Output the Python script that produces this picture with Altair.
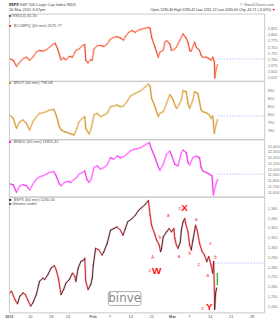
import altair as alt
import pandas as pd

FONT = "Liberation Sans"

# x = trading-day index (0 = 3 Jan 2011)
tick_days = [0, 5, 10, 14, 20, 24, 29, 34, 39, 43, 48, 53, 58]
tick_labels = ["2011", "10", "18", "24", "Feb", "7", "14", "22", "Mar", "7", "14", "21", "28"]
bold_days = [0, 20, 39]

compq_t = [0.24,1.02,1.82,2.60,3.38,4.18,4.96,5.74,6.55,7.33,8.11,8.91,9.69,10.47,11.04,11.65,12.46,13.07,13.64,14.42,15.20,16.00,16.78,17.57,18.13,18.37,18.91,19.55,19.93,20.33,21.11,21.91,22.70,23.48,24.28,25.06,25.84,26.64,27.42,27.83,28.61,29.39,30.19,30.97,31.75,32.55,33.33,33.74,34.11,34.92,35.70,36.10,36.88,37.28,37.66,38.46,38.84,39.65,40.02,40.83,41.61,42.25,42.79,43.19,43.57,44.37,44.75,45.56,45.93,46.34,47.12,47.92,48.30,48.70,49.10,49.22,49.48,49.88]
compq_v = [2701,2695,2670,2688,2701,2708,2695,2708,2729,2736,2733,2738,2749,2760,2766,2742,2697,2705,2697,2711,2708,2736,2742,2756,2760,2695,2684,2697,2695,2742,2756,2756,2752,2763,2783,2790,2793,2787,2779,2793,2811,2818,2811,2820,2824,2828,2831,2828,2790,2749,2708,2729,2736,2770,2777,2763,2736,2742,2749,2777,2804,2790,2770,2736,2733,2770,2749,2736,2715,2708,2708,2701,2695,2708,2688,2622,2655,2678]
compq_ticks = [2625, 2650, 2675, 2700, 2725, 2750, 2775, 2800, 2825]
compq_last = 2701

rut_t = [0.24,1.02,1.82,2.60,3.38,4.18,4.96,5.74,6.55,7.33,8.11,8.91,9.69,10.71,11.28,12.06,12.46,13.24,14.02,14.82,15.60,16.24,16.78,17.57,18.13,18.37,19.15,19.69,20.33,21.11,21.91,22.70,23.48,24.28,25.06,25.84,26.64,27.42,28.20,29.01,30.19,30.97,31.75,32.55,33.33,33.74,34.11,34.92,35.70,36.10,36.88,37.66,38.46,38.84,39.24,40.02,40.43,41.21,41.61,42.39,42.79,43.19,43.97,44.37,45.15,45.93,46.34,47.12,47.92,48.30,48.70,49.10,49.48,49.88]
rut_v = [799.5,795.4,783.2,791.3,793.4,789.3,781.2,791.3,797.4,801.5,802.3,803.5,805.6,806.4,799.5,785.2,781.2,779.1,777.9,776.3,775.1,783.2,791.3,795.4,797.4,783.2,776.3,783.2,799.5,801.5,797.4,799.5,801.5,809.6,810.5,811.7,809.6,810.5,815.7,822.7,825.9,827.9,830.0,834.0,837.3,834.9,819.8,809.6,797.4,801.5,803.5,813.7,824.3,821.8,817.8,807.6,809.6,817.8,829.2,827.9,813.7,807.6,817.8,827.9,825.9,805.6,803.5,802.3,799.5,795.4,798.3,777.1,787.3,794.2]
rut_ticks = [780, 790, 800, 810, 820, 830]
rut_last = 798.3

indu_t = [0.24,1.02,1.82,2.60,3.38,4.18,4.96,5.74,6.55,7.33,8.11,8.91,9.69,10.71,11.28,12.06,12.46,13.24,14.02,14.82,15.60,16.24,16.78,17.57,18.13,18.61,19.15,19.69,20.33,21.11,21.91,22.70,23.48,24.28,25.06,25.84,26.64,27.42,28.20,29.01,29.79,30.57,31.37,32.15,32.93,33.57,34.11,34.92,35.70,36.10,36.88,37.66,38.46,38.84,39.65,40.43,41.21,41.61,42.39,42.79,43.19,43.97,44.75,45.56,45.93,46.34,47.12,47.92,48.53,48.86,49.48,49.88]
indu_v = [11744,11732,11600,11715,11732,11715,11641,11744,11829,11868,11886,11915,11942,11959,11886,11744,11715,11771,11788,11771,11829,11857,11915,11942,11971,11829,11771,11829,12028,12057,12000,12028,12074,12199,12171,12228,12199,12216,12257,12313,12342,12352,12370,12399,12438,12455,12342,12199,12039,11983,12086,12257,12313,12245,12086,12057,12284,12330,12284,12113,12074,12199,12228,12199,12028,11971,11942,11915,11886,11556,11744,11829]
indu_ticks = [11600, 11700, 11800, 11900, 12000, 12100, 12200, 12300, 12400]
indu_last = 11915

spx_t = [0.24,0.64,1.42,2.06,2.60,3.38,3.95,4.56,5.20,5.74,6.55,7.33,8.11,8.51,9.29,10.09,10.87,11.28,11.82,12.46,13.07,13.64,14.42,15.20,15.77,16.00,16.55,17.19,17.97,18.13,18.37,18.91,19.55,19.93,20.17,20.73,21.51,22.29,22.70,23.48,24.28,25.06,25.84,26.64,27.26,27.83,28.37,29.39,30.19,30.97,31.75,32.55,33.33,33.74,34.11,34.92,35.30,35.93,36.24,36.48,36.88,37.66,38.30,38.84,39.41,39.65,40.02,40.43,40.97,41.21,41.61,42.01,42.25,42.79,43.19,43.57,43.97,44.61,44.99,45.56,46.17,46.74,47.28,47.75,48.30,48.70,48.94,49.10,49.17,49.41,49.65]
spx_v = [1253.6,1255.3,1246.9,1242.5,1250.2,1253.6,1251.9,1245.9,1240.1,1243.5,1251.9,1265.4,1268.8,1267.1,1272.1,1278.9,1281.5,1277.2,1268.8,1251.9,1257.0,1263.7,1267.1,1273.8,1270.4,1265.4,1278.9,1285.6,1287.3,1289.0,1265.4,1257.0,1262.0,1268.8,1282.2,1299.1,1297.4,1292.3,1295.7,1304.1,1317.6,1319.3,1320.9,1317.6,1312.5,1319.3,1326.0,1329.4,1332.7,1337.8,1340.8,1343.8,1347.9,1332.7,1322.6,1312.5,1307.5,1302.4,1295.7,1299.1,1310.8,1315.9,1319.3,1315.9,1319.3,1309.2,1302.4,1299.1,1305.8,1317.6,1326.0,1329.4,1324.3,1315.9,1302.4,1297.4,1307.5,1322.6,1317.6,1304.1,1295.7,1292.3,1285.6,1290.6,1282.2,1273.8,1285.6,1257.0,1236.8,1253.6,1258.7]
spx_ticks = [1240, 1250, 1260, 1270, 1280, 1290, 1300, 1310, 1320, 1330, 1340]
spx_last = 1284
spx_final_t = 49.8
spx_final_lo = 1261.5
spx_final_hi = 1274

small_t = [38.06, 36.1, 34.35, 33.7, 40.8, 40.66, 43.2, 44.75, 48.16, 45.4, 49.34, 47.5, 46.3]
small_v = [1332.0, 1309.8, 1289.6, 1275.7, 1339.5, 1290.6, 1293.0, 1328.2, 1303.1, 1282.2, 1289.6, 1270.4, 1236.8]
small_s = ["a", "b", "A", "c", "c", "a", "b", "a", "x", "c", "b", "a", "c"]
big_t = [35.3, 42.0, 47.9]
big_v = [1275.7, 1340.3, 1238.8]
big_s = ["W", "X", "Y"]

XDOM = [0, 61]
W = 258


def segments(t, v, up, down):
    rows = list(zip(t, v))
    a, b = rows[:-1], rows[1:]
    return pd.DataFrame({
        "t": [p[0] for p in a], "t2": [q[0] for q in b],
        "v": [p[1] for p in a], "v2": [q[1] for q in b],
        "c": [up if q[1] >= p[1] else down for p, q in zip(a, b)],
    })


def txt(s, x, y, color="#444", size=4, weight="normal", align="left"):
    return alt.Chart(pd.DataFrame({"s": [s]})).mark_text(
        align=align, baseline="middle", fontSize=size, color=color, font=FONT, fontWeight=weight
    ).encode(x=alt.value(x), y=alt.value(y), text="s:N")


label_expr = " : ".join(f"datum.value == {d} ? '{l}'" for d, l in zip(tick_days, tick_labels)) + " : ''"
bold_expr = "indexof(" + str(bold_days) + ", datum.value) >= 0 ? 'bold' : 'normal'"


def panel(t, v, dom, ticks, halo, up, down, last_t, last_v, height, extras=()):
    xs = alt.Scale(domain=XDOM, nice=False, zero=False)
    ys = alt.Scale(domain=dom, nice=False, zero=False)
    yax = alt.Axis(orient="right", values=ticks, grid=False, ticks=False, domain=False,
                   labelFontSize=4, labelColor="#777", labelFont=FONT, labelPadding=3,
                   labelOverlap=False, labelFlush=False, title=None)
    X = alt.X("t:Q", scale=xs, axis=None, title=None)
    Y = alt.Y("v:Q", scale=ys, axis=yax)
    df = pd.DataFrame({"t": list(t), "v": list(v)}).iloc[:min(len(t), len(v))]
    halo_l = alt.Chart(df).mark_line(color=halo, strokeWidth=2.2, strokeJoin="round").encode(x=X, y=Y)
    seg = alt.Chart(segments(t, v, up, down)).mark_rule(strokeWidth=0.75, strokeCap="round").encode(
        x=X, x2="t2:Q", y=Y, y2="v2:Q", color=alt.Color("c:N", scale=None))
    dash = alt.Chart(pd.DataFrame({"t": [last_t], "t2": [XDOM[1]], "v": [last_v]})).mark_rule(
        color="#a8b0ff", strokeDash=[1.5, 1.5], strokeWidth=0.8).encode(x=X, x2="t2:Q", y=Y)
    return alt.layer(halo_l, seg, dash, *extras).properties(width=W, height=height)


header = alt.layer(
    txt("$SPX", 0, 2.5, color="#222", weight="bold"),
    txt("S&P 500 Large Cap Index  INDX", 11, 2.5, color="#444"),
    txt("16-Mar-2011 3:47pm", 0, 7.5, color="#444"),
    txt("© StockCharts.com", 268, 2.5, color="#666", align="right"),
    txt("Open 1290.40  High 1290.41  Low 1261.12  Last 1265.00  Chg -40.71 (-3.00%)", 265, 7, color="#333", size=3.6, align="right"),
    txt("▼", 266, 7, color="#dd0000", size=3.6),
).properties(width=W, height=11, view=alt.ViewBackground(stroke="transparent"))

p1 = panel(compq_t, compq_v, [2609.8, 2888.6], compq_ticks, "#fcd0c4", "#f5603a", "#dc2000",
           49.88, compq_last, 68,
           extras=[txt("■ RSI(14) 45.30", 0, 2.5, color="#555"),
                   txt("■", 0, 13, color="#e83010"),
                   txt("$COMPQ (60 min) 2675.77", 5, 13, color="#555")])

p2 = panel(rut_t, rut_v, [769.8, 841.3], rut_ticks, "#f4e0bc", "#dca040", "#c47c00",
           49.88, rut_last, 59,
           extras=[txt("■", 0, 2.5, color="#d08a10"),
                   txt("$RUT (60 min) 796.08", 5, 2.5, color="#555")])

p3 = panel(indu_t, indu_v, [11526, 12518], indu_ticks, "#ffc8ff", "#ff4cff", "#e000e0",
           49.88, indu_last, 58,
           extras=[txt("■", 0, 2.5, color="#ff00ff"),
                   txt("$INDU (60 min) 11855.42", 5, 2.5, color="#555")])

xaxis4 = alt.Axis(values=tick_days, labelExpr=label_expr, grid=False, ticks=False, domain=False,
                  labelFontSize=4, labelColor="#555", labelFont=FONT, labelPadding=2,
                  labelFlush=False, labelOverlap=False, labelFontWeight={"expr": bold_expr})

xs4 = alt.Scale(domain=XDOM, nice=False, zero=False)
ys4 = alt.Scale(domain=[1233.7, 1351.9], nice=False, zero=False)
X4 = alt.X("t:Q", scale=xs4, axis=xaxis4, title=None)
Y4 = alt.Y("v:Q", scale=ys4, axis=alt.Axis(orient="right", values=spx_ticks, grid=False, ticks=False,
                                           domain=False, labelFontSize=4, labelColor="#777", labelFont=FONT,
                                           labelPadding=3, labelOverlap=False, labelFlush=False, title=None))

final_candle = alt.Chart(pd.DataFrame({"t": [spx_final_t], "v": [spx_final_lo], "v2": [spx_final_hi]})).mark_rule(
    color="#22aa22", strokeWidth=1.2).encode(x=X4, y=Y4, y2="v2:Q")
small_ann = alt.Chart(pd.DataFrame({"t": small_t, "v": small_v, "s": small_s})).mark_text(
    color="#ff2020", fontSize=4.5, font=FONT).encode(x=X4, y=Y4, text="s:N")
big_ann = alt.Chart(pd.DataFrame({"t": big_t, "v": big_v, "s": big_s})).mark_text(
    color="#ff1010", fontSize=10, font=FONT, fontWeight="bold").encode(x=X4, y=Y4, text="s:N")
wm = pd.DataFrame({"s": ["binve"]})
wm_box = alt.Chart(wm).mark_rect(fill="white", stroke="#aaaaaa", strokeWidth=1, cornerRadius=2).encode(
    x=alt.value(100.5), x2=alt.value(133.5), y=alt.value(96), y2=alt.value(110))
wm_txt = alt.Chart(wm).mark_text(fontSize=12, color="#8a8a8a", font="DejaVu Sans", align="center",
                                  baseline="middle").encode(x=alt.value(117), y=alt.value(102.5), text="s:N")

p4 = alt.layer(
    alt.Chart(pd.DataFrame({"t": spx_t, "v": spx_v})).mark_line(color="#f7c4cc", strokeWidth=2.2,
                                                                 strokeJoin="round").encode(x=X4, y=Y4),
    alt.Chart(segments(spx_t, spx_v, "#111111", "#cc0000")).mark_rule(strokeWidth=0.8, strokeCap="round").encode(
        x=X4, x2="t2:Q", y=Y4, y2="v2:Q", color=alt.Color("c:N", scale=None)),
    alt.Chart(pd.DataFrame({"t": [49.2], "t2": [XDOM[1]], "v": [spx_last]})).mark_rule(
        color="#a8b0ff", strokeDash=[1.5, 1.5], strokeWidth=0.8).encode(x=X4, x2="t2:Q", y=Y4),
    final_candle, small_ann, big_ann, wm_box, wm_txt,
    txt("■", 0, 3, color="#222"),
    txt("$SPX (60 min) 1265.00", 5, 3, color="#555"),
    txt("■ Volume undef", 0, 7.5, color="#555"),
).properties(width=W, height=117)

chart = alt.vconcat(header, p1, p2, p3, p4, spacing=0, bounds="flush").resolve_scale(
    y="independent", x="independent"
).properties(
    padding={"left": 4, "top": 0, "right": 0, "bottom": 0},
    background="white",
).configure_view(stroke="#c8c8c8", strokeWidth=1)

chart.save("out.html", embed_options={"renderer": "svg", "actions": False})
